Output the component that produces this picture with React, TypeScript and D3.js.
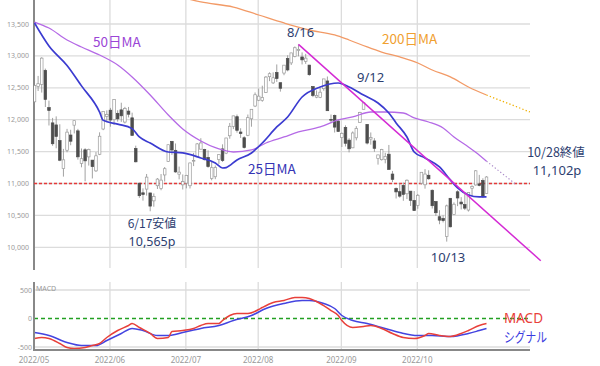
import React from 'react';
import * as d3 from 'd3';

// ---- Data (NASDAQ-like index, 2022/05/02 - 2022/10/28, trading-day index) ----
const MONTH_LABELS = ['2022/05', '2022/06', '2022/07', '2022/08', '2022/09', '2022/10'];
const MONTH_START_IDX = [0, 21, 42, 62, 85, 106];
const PRICE_TICKS = [10000, 10500, 11000, 11500, 12000, 12500, 13000, 13500];
const MACD_TICKS = [-500, 0, 500];
const SUPPORT_LEVEL = 11000;

const OPEN = [
  12280, 12521, 12553, 12774, 12190, 11950, 11918, 11672, 11233, 11521, 11760, 11914, 11825, 11315, 11528, 11417, 11366, 11198, 11458, 11854, 12050,
  12149, 12000, 12100, 12154, 11963, 12135, 12029, 11549, 11005, 10854, 10912, 10852, 10728, 10965, 10920, 11134, 11345, 11661, 11520, 11146, 10979,
  11006, 10965, 11362, 11419, 11538, 11532, 11409, 11079, 11106, 11378, 11542, 11476, 11748, 11896, 12047, 11807, 11717, 11756, 12014, 12214,
  12305, 12300, 12426, 12674, 12577, 12740, 12580, 12731, 12960, 12890, 12990, 13084, 12983, 12914, 12856, 12519, 12353, 12350, 12486, 12607, 12004, 12068, 11978,
  11720, 11880, 11680, 11559, 11716, 11955, 12163, 11926, 11696, 11667, 11390, 11373, 11377, 11459, 11148, 10920, 10872, 10971, 10839, 10880, 10734,
  10658, 11005, 10980, 11129, 10894, 10717, 10479, 10451, 10171, 10768, 10515, 10870, 10709, 10669, 10584, 10926, 10977, 10993, 11047, 10843,
];
const HIGH = [
  12550, 12686, 12980, 12801, 12299, 12028, 12052, 11928, 11542, 11856, 11842, 11985, 11856, 11549, 11553, 11546, 11368, 11492, 11802, 12131, 12146,
  12185, 12320, 12148, 12266, 12201, 12200, 12110, 11593, 11005, 10924, 11149, 10852, 10844, 11085, 11148, 11258, 11608, 11662, 11627, 11265, 11142,
  11135, 11325, 11480, 11635, 11710, 11543, 11520, 11338, 11282, 11456, 11614, 11716, 11949, 12061, 12081, 11866, 11740, 12081, 12166, 12427,
  12487, 12533, 12685, 12742, 12742, 12866, 12582, 12855, 13010, 13047, 13148, 13181, 13055, 13032, 12858, 12527, 12459, 12496, 12640, 12677, 12081, 12081, 12004,
  11800, 11912, 11710, 11816, 11899, 12123, 12270, 11926, 11800, 11711, 11451, 11543, 11481, 11604, 11197, 10938, 11002, 11016, 11064, 10880, 10882,
  10835, 11176, 11225, 11207, 10906, 10718, 10581, 10501, 10669, 10770, 10704, 10894, 10786, 10837, 10864, 10972, 11210, 11135, 11082, 11114,
];
const LOW = [
  12203, 12450, 12425, 12199, 11909, 11591, 11552, 11350, 11108, 11490, 11600, 11785, 11374, 11254, 11035, 11281, 11079, 11181, 11445, 11836, 11961,
  11890, 11919, 11969, 11966, 11941, 12036, 11754, 11331, 10775, 10731, 10810, 10565, 10636, 10914, 10894, 11031, 11337, 11450, 11168, 11065, 10906,
  10924, 10922, 11273, 11418, 11535, 11361, 11246, 11050, 11068, 11307, 11338, 11460, 11702, 11853, 11797, 11715, 11548, 11742, 11890, 12198,
  12292, 12282, 12421, 12604, 12560, 12592, 12440, 12697, 12758, 12857, 12978, 12993, 12866, 12875, 12688, 12354, 12337, 12338, 12454, 12141, 11945, 11799, 11810,
  11572, 11580, 11488, 11555, 11676, 11955, 12163, 11612, 11609, 11497, 11296, 11360, 11316, 11220, 11021, 10765, 10777, 10729, 10756, 10648, 10576,
  10604, 10985, 10919, 11060, 10608, 10494, 10362, 10390, 10089, 10312, 10515, 10645, 10593, 10584, 10560, 10799, 10967, 10956, 10772, 10843,
];
const CLOSE = [
  12536, 12564, 12965, 12318, 12145, 11623, 11738, 11365, 11371, 11805, 11663, 11985, 11418, 11389, 11355, 11535, 11265, 11434, 11741, 12131, 12081,
  11995, 12317, 12013, 12061, 12175, 12086, 11754, 11340, 10809, 10828, 11100, 10646, 10798, 11069, 11053, 11232, 11608, 11525, 11182, 11178, 11029,
  11128, 11322, 11362, 11621, 11635, 11373, 11265, 11248, 11252, 11452, 11360, 11713, 11897, 12060, 11834, 11782, 11563, 12032, 12163, 12391,
  12369, 12349, 12668, 12721, 12657, 12645, 12493, 12855, 12780, 13047, 13128, 13103, 12938, 12965, 12706, 12381, 12381, 12431, 12639, 12141, 11999, 11884, 11816,
  11785, 11631, 11544, 11792, 11862, 12112, 12266, 11634, 11719, 11552, 11448, 11535, 11425, 11220, 11066, 10868, 10802, 10829, 11051, 10737, 10576,
  10815, 11176, 11148, 11074, 10652, 10542, 10426, 10418, 10649, 10321, 10675, 10773, 10680, 10614, 10859, 10953, 11199, 10971, 10793, 11102,
];

// moving averages: [trading-day index, value]
const MA25: [number, number][] = [
  [0, 13516], [4, 13155], [9, 12850], [13, 12530], [18, 12120], [19, 11990], [23, 11930], [27, 11860], [29, 11729],
  [32, 11635], [37, 11494], [41, 11479], [46, 11400], [50, 11322], [52, 11243], [53, 11250], [56, 11369], [60, 11479],
  [63, 11635], [67, 11886], [70, 12043], [74, 12356], [79, 12513], [84, 12575], [87, 12513], [91, 12387], [95, 12262],
  [98, 12105], [100, 11950], [103, 11729], [105, 11494], [108, 11400], [112, 11259], [115, 11056], [117, 10930],
  [120, 10820], [123, 10789], [125, 10789],
];
const MA50: [number, number][] = [
  [0, 13531], [4, 13437], [9, 13249], [13, 13140], [18, 13014], [23, 12857], [27, 12670], [32, 12387], [37, 12074],
  [41, 11855], [46, 11667], [51, 11541], [55, 11494], [60, 11526], [64, 11635], [69, 11729], [73, 11808], [79, 11886],
  [84, 11996], [88, 12043], [93, 12121], [97, 12121], [102, 12105], [105, 12027], [109, 11964], [113, 11870],
  [116, 11729], [120, 11573], [122, 11490], [125, 11350],
];
const MA50_EXT: [number, number][] = [[125, 11350], [133, 10993]];
const MA200: [number, number][] = [
  [40, 13930], [46, 13845], [55, 13766], [62, 13641], [69, 13516], [76, 13406], [83, 13328], [87, 13249],
  [92, 13140], [96, 13061], [101, 12983], [106, 12889], [110, 12779], [115, 12670], [120, 12513], [125, 12387],
];
const MA200_EXT: [number, number][] = [[125, 12387], [137, 12121]];
const TREND: [number, number][] = [[73, 13181], [140, 9790]];

const MACD: [number, number][] = [
  [0, -351], [2, -333], [4, -351], [7, -439], [9, -509], [11, -526], [14, -509], [16, -474], [18, -439], [20, -333],
  [23, -211], [26, -123], [27, -88], [29, -158], [32, -263], [34, -351], [37, -333], [38, -228], [41, -211], [44, -175],
  [46, -123], [48, -88], [51, -88], [52, -35], [54, 53], [56, 88], [59, 88], [62, 158], [63, 193], [66, 281], [69, 316],
  [72, 368], [74, 368], [76, 351], [79, 263], [82, 140], [84, 53], [85, -35], [88, -158], [91, -140], [93, -123],
  [96, -175], [99, -263], [102, -333], [105, -351], [108, -298], [109, -263], [112, -298], [115, -316], [118, -263],
  [120, -211], [123, -123], [125, -88],
];
const SIGNAL: [number, number][] = [
  [0, -246], [4, -298], [9, -421], [13, -474], [17, -474], [20, -386], [24, -263], [27, -175], [30, -211], [34, -298],
  [37, -298], [41, -246], [46, -175], [51, -123], [55, -35], [60, 53], [64, 175], [69, 263], [74, 316], [76, 316],
  [80, 263], [83, 175], [85, 53], [88, -35], [92, -88], [96, -158], [101, -246], [106, -298], [110, -298], [115, -316],
  [120, -263], [123, -211], [125, -175],
];

const FONT = '"Noto Sans CJK JP", "Noto Sans", sans-serif';
const LATIN = '"Noto Sans", sans-serif';

export default function App() {
  const W = 600, H = 366;
  const L = 34, R = 530;
  const mainTop = 0, mainBottom = 268;
  const mTop = 282, mBottom = 350;

  const x = d3.scaleLinear().domain([0, 125]).range([34.5, 486.5]);
  const y = d3.scaleLinear().domain([10000, 13500]).range([247.3, 24]);
  const ym = d3.scaleLinear().domain([-500, 500]).range([347, 290]);

  const lineP = d3.line<[number, number]>().x(d => x(d[0])).y(d => y(d[1])).curve(d3.curveMonotoneX);
  const lineStraight = d3.line<[number, number]>().x(d => x(d[0])).y(d => y(d[1]));
  const lineM = d3.line<[number, number]>().x(d => x(d[0])).y(d => ym(d[1])).curve(d3.curveMonotoneX);

  const bw = 2.6;

  return (
    <svg width={W} height={H} style={{ position: 'absolute', left: 0, top: 0, background: '#fff' }} fontFamily={FONT}>
      <defs>
        <clipPath id="mainClip"><rect x={L} y={mainTop} width={R - L + 40} height={mainBottom - mainTop} /></clipPath>
      </defs>
      <rect x={0} y={0} width={W} height={H} fill="#fff" />

      {/* main grid */}
      {PRICE_TICKS.map(t => (
        <g key={'pt' + t}>
          <line x1={L} x2={R} y1={y(t)} y2={y(t)} stroke="#dcdcdc" strokeWidth={1.3} />
          <text x={29} y={y(t) + 2.5} fontSize={7} fill="#999" textAnchor="end" fontFamily={LATIN}>{d3.format(',')(t)}</text>
        </g>
      ))}
      {MONTH_START_IDX.slice(1).map(i => (
        <line key={'vg' + i} x1={x(i) - 0.5} x2={x(i) - 0.5} y1={mainTop} y2={mainBottom} stroke="#dcdcdc" strokeWidth={1.3} />
      ))}
      <line x1={L} x2={L} y1={mainTop} y2={mainBottom + 2} stroke="#888" strokeWidth={2} />

      <g clipPath="url(#mainClip)">
        {/* 200MA */}
        <path d={lineP(MA200) || ''} fill="none" stroke="#f29a66" strokeWidth={1.3} />
        <path d={lineStraight(MA200_EXT) || ''} fill="none" stroke="#f0b000" strokeWidth={1.3} strokeDasharray="1.3,2.2" />
        {/* support line */}
        <line x1={L} x2={R} y1={y(SUPPORT_LEVEL)} y2={y(SUPPORT_LEVEL)} stroke="#e53a3a" strokeWidth={1.4} strokeDasharray="3,2" />

        {/* candles */}
        {CLOSE.map((c, i) => {
          const o = OPEN[i], h = HIGH[i], l = LOW[i];
          const up = c >= o;
          const top = y(Math.max(o, c)), bot = y(Math.min(o, c));
          const cx = x(i);
          return (
            <g key={'c' + i}>
              <line x1={cx} x2={cx} y1={y(h)} y2={y(l)} stroke="#8a8a8a" strokeWidth={0.8} />
              <rect x={cx - bw / 2} y={top} width={bw} height={Math.max(0.8, bot - top)}
                fill={up ? '#ffffff' : '#4d4d4d'} stroke={up ? '#9a9a9a' : '#4d4d4d'} strokeWidth={0.7} />
            </g>
          );
        })}

        {/* 50MA */}
        <path d={lineP(MA50) || ''} fill="none" stroke="#b56ae6" strokeWidth={1.3} />
        <path d={lineStraight(MA50_EXT) || ''} fill="none" stroke="#a988c8" strokeWidth={1.1} strokeDasharray="1.3,2.2" />
        {/* 25MA */}
        <path d={lineP(MA25) || ''} fill="none" stroke="#3b3bd0" strokeWidth={1.7} />
        {/* trend line */}
        <path d={lineStraight(TREND) || ''} fill="none" stroke="#d42ad4" strokeWidth={1.5} />
      </g>

      {/* annotations */}
      <text x={93} y={47} fontSize={13.5} fill="#9b45d6">50日MA</text>
      <text x={382} y={44} fontSize={13.5} fill="#f0a030">200日MA</text>
      <text x={287} y={37} fontSize={13} fill="#2d3e70" fontFamily={LATIN}>8/16</text>
      <text x={357} y={82} fontSize={13} fill="#2d3e70" fontFamily={LATIN}>9/12</text>
      <text x={248} y={174} fontSize={13.5} fill="#3535b5">25日MA</text>
      <text x={152} y={228} fontSize={12} fill="#2d3e70" textAnchor="middle">6/17安値</text>
      <text x={152} y={246} fontSize={12.5} fill="#2d3e70" textAnchor="middle" fontFamily={LATIN}>10,565p</text>
      <text x={448} y={262} fontSize={13} fill="#2d3e70" textAnchor="middle" fontFamily={LATIN}>10/13</text>
      <text x={556} y={157} fontSize={12.5} fill="#2d3e70" textAnchor="middle">10/28終値</text>
      <text x={557} y={175} fontSize={13} fill="#2d3e70" textAnchor="middle" fontFamily={LATIN}>11,102p</text>

      {/* MACD panel */}
      {MACD_TICKS.filter(t => t !== 0).map(t => (
        <line key={'mg' + t} x1={L} x2={R} y1={ym(t)} y2={ym(t)} stroke="#dcdcdc" strokeWidth={1.3} />
      ))}
      {MACD_TICKS.map(t => (
        <text key={'ml' + t} x={32} y={ym(t) + 2.5} fontSize={7} fill="#999" textAnchor="end" fontFamily={LATIN}>{t}</text>
      ))}
      {MONTH_START_IDX.slice(1).map(i => (
        <line key={'mvg' + i} x1={x(i) - 0.5} x2={x(i) - 0.5} y1={mTop} y2={mBottom} stroke="#dcdcdc" strokeWidth={1.3} />
      ))}
      <text x={36} y={291} fontSize={7} fill="#999" fontFamily={LATIN}>MACD</text>
      <line x1={L} x2={R} y1={ym(0)} y2={ym(0)} stroke="#22a022" strokeWidth={1.4} strokeDasharray="4,3" />
      <path d={lineM(SIGNAL) || ''} fill="none" stroke="#4444e0" strokeWidth={1.5} />
      <path d={lineM(MACD) || ''} fill="none" stroke="#e8403a" strokeWidth={1.5} />
      <line x1={L} x2={L} y1={mTop} y2={mBottom} stroke="#888" strokeWidth={2} />
      <line x1={L - 1} x2={R} y1={mBottom} y2={mBottom} stroke="#888" strokeWidth={2} />
      {MONTH_LABELS.map((m, k) => (
        <text key={m} x={x(MONTH_START_IDX[k]) - 0.5} y={363} fontSize={8} fill="#999" textAnchor="middle" fontFamily={LATIN}>{m}</text>
      ))}
      <text x={504} y={323} fontSize={13.5} fill="#e8403a" fontFamily={LATIN}>MACD</text>
      <text x={504} y={342} fontSize={13.5} fill="#3a3ae0" textLength={43} lengthAdjust="spacingAndGlyphs">シグナル</text>
    </svg>
  );
}
